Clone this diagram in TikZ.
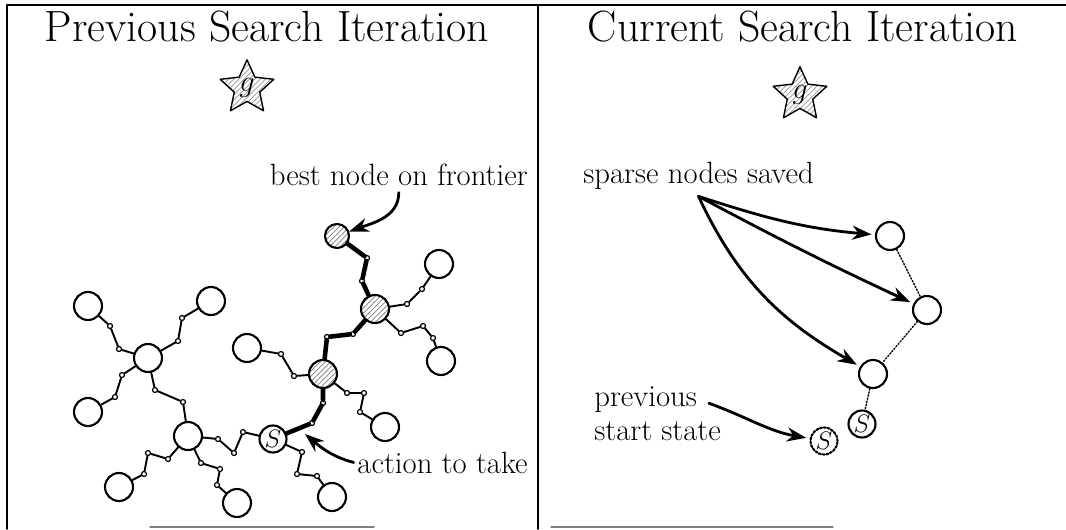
\documentclass[tikz,border=0pt]{standalone}
\usepackage{amsmath}
\usepackage{amssymb}
\usepackage{tikz}
\usetikzlibrary{arrows.meta,shapes.geometric,patterns}
\definecolor{sqsqsq}{rgb}{0.5,0.5,0.5}
\definecolor{cccccc}{rgb}{0.6,0.6,0.6}
\begin{document}
\begin{tikzpicture}[line cap=round,line join=round,>={Stealth[length=11pt,width=8pt]},x=0.02cm,y=0.02cm,
  bigc/.style={circle,draw,line width=1.2pt,minimum size=0.56cm,inner sep=0},
  hatc/.style={bigc,pattern=north east lines,pattern color=sqsqsq},
  dotc/.style={circle,draw,line width=0.7pt,fill=white,minimum size=0.1cm,inner sep=0},
  startc/.style={circle,draw,line width=1.2pt,minimum size=0.54cm,inner sep=0,font=\fontsize{15}{17}\selectfont},
  goalc/.style={star,star points=5,star point ratio=2.1,draw,line width=0.8pt,minimum size=0.82cm,inner sep=0,pattern=north east lines,pattern color=cccccc,font=\fontsize{17}{19}\selectfont},
  link/.style={line width=1.1pt},
  bestlink/.style={line width=2.6pt},
  arr/.style={->,line width=1.6pt,shorten >=2pt},
  savlink/.style={densely dotted,line width=0.8pt},
  lbl/.style={font=\fontsize{17.5}{19.8}\selectfont,inner sep=0},
  ttl/.style={font=\fontsize{24.9}{29}\selectfont,inner sep=0}]
\useasboundingbox (0,0) rectangle (1066,529);
\draw [line width=1.1pt] (1066,524) -- (7,524) -- (7,0);
\draw [line width=1.1pt] (538,524) -- (538,0);
\draw [color=sqsqsq,line width=0.8pt] (150,2) -- (374,2);
\draw [color=sqsqsq,line width=0.8pt] (551,2) -- (833,2);
\node[ttl,anchor=base] (ttlL) at (267,488) {Previous Search Iteration};
\node[ttl,anchor=base] (ttlR) at (803,488) {Current Search Iteration};
\node[goalc] (goalL) at (247,441) {$g$};
\node[goalc] (goalR) at (800,434) {$g$};
\node[bigc] (hubA) at (148,171) {};
\node[bigc] (leafA1) at (88,223) {};
\node[bigc] (leafA2) at (211,228) {};
\node[bigc] (leafA3) at (88,117) {};
\node[bigc] (hubB) at (188,93) {};
\node[bigc] (leafB1) at (119,42) {};
\node[bigc] (leafB2) at (237,26) {};
\node[startc] (startL) at (273,90) {$S$};
\node[bigc] (leafS) at (332,32) {};
\node[hatc] (shC) at (323,155) {};
\node[bigc] (leafC1) at (247,181) {};
\node[bigc] (leafC2) at (385,102) {};
\node[hatc] (shD) at (375,220) {};
\node[bigc] (leafD1) at (439,265) {};
\node[bigc] (leafD2) at (441,168) {};
\node[hatc,minimum size=0.48cm] (best) at (337,293) {};
\node[dotc] (a1) at (119,180) {};
\node[dotc] (a2) at (110,203) {};
\node[dotc] (a3) at (178,188) {};
\node[dotc] (a4) at (182,211) {};
\node[dotc] (a5) at (122,154) {};
\node[dotc] (a6) at (115,132) {};
\node[dotc] (a7) at (155,139) {};
\node[dotc] (a8) at (183,127) {};
\node[dotc] (b1) at (168,70) {};
\node[dotc] (b2) at (148,76) {};
\node[dotc] (b3) at (144,55) {};
\node[dotc] (b4) at (201,66) {};
\node[dotc] (b5) at (220,60) {};
\node[dotc] (b6) at (217,44) {};
\node[dotc] (b7) at (218,90) {};
\node[dotc] (b8) at (234,76) {};
\node[dotc] (b9) at (243,97) {};
\node[dotc] (s1) at (302,77) {};
\node[dotc] (s2) at (297,55) {};
\node[dotc] (s3) at (317,53) {};
\node[dotc] (t1) at (312,106) {};
\node[dotc] (t2) at (323,126) {};
\node[dotc] (c1) at (294,153) {};
\node[dotc] (c2) at (281,175) {};
\node[dotc] (c3) at (347,136) {};
\node[dotc] (c4) at (364,136) {};
\node[dotc] (c5) at (360,117) {};
\node[dotc] (t3) at (327,192) {};
\node[dotc] (t4) at (353,195) {};
\node[dotc] (d1) at (407,225) {};
\node[dotc] (d2) at (422,240) {};
\node[dotc] (d3) at (401,196) {};
\node[dotc] (d4) at (423,203) {};
\node[dotc] (d5) at (433,191) {};
\node[dotc] (t5) at (362,248) {};
\node[dotc] (t6) at (367,271) {};
\draw [link] (hubA) -- (a1) -- (a2) -- (leafA1);
\draw [link] (hubA) -- (a3) -- (a4) -- (leafA2);
\draw [link] (hubA) -- (a5) -- (a6) -- (leafA3);
\draw [link] (hubA) -- (a7) -- (a8) -- (hubB);
\draw [link] (hubB) -- (b1) -- (b2) -- (b3) -- (leafB1);
\draw [link] (hubB) -- (b4) -- (b5) -- (b6) -- (leafB2);
\draw [link] (hubB) -- (b7) -- (b8) -- (b9) -- (startL);
\draw [link] (startL) -- (s1) -- (s2) -- (s3) -- (leafS);
\draw [link] (shC) -- (c1) -- (c2) -- (leafC1);
\draw [link] (shC) -- (c3) -- (c4) -- (c5) -- (leafC2);
\draw [link] (shD) -- (d1) -- (d2) -- (leafD1);
\draw [link] (shD) -- (d3) -- (d4) -- (d5) -- (leafD2);
\draw [bestlink] (startL) -- (t1) -- (t2) -- (shC);
\draw [bestlink] (shC) -- (t3) -- (t4) -- (shD);
\draw [bestlink] (shD) -- (t5) -- (t6) -- (best);
\node[lbl,anchor=base east] (bestlbl) at (528,344) {best node on frontier};
\node[lbl,anchor=base east] (actlbl) at (528,56) {action to take};
\coordinate (acttip) at (305,95);
\draw [arr,shorten >=0pt] ([yshift=-4pt]bestlbl.south) to[out=-90,in=20] (best);
\draw [arr,shorten >=0pt] ([xshift=-2pt]actlbl.west) to[out=165,in=-40] (acttip);
\node[lbl,anchor=base west] (savlbl) at (583,346) {sparse nodes saved};
\node[lbl,anchor=north west,align=left] (prevlbl) at (594,143) {previous\\start state};
\node[bigc] (n1) at (890,293) {};
\node[bigc] (n2) at (927,219) {};
\node[bigc] (n3) at (873,155) {};
\node[startc] (startR) at (862,105) {$S$};
\node[startc,densely dotted] (prevS) at (824,88) {$S$};
\draw [savlink] (n1) -- (n2);
\draw [savlink] (n2) -- (n3);
\draw [savlink] (n3) -- (startR);
\draw [arr] ([yshift=-4pt]savlbl.south) to[out=-18,in=175] (n1);
\draw [arr] ([yshift=-4pt]savlbl.south) to[out=-28,in=155] (n2);
\draw [arr] ([yshift=-4pt]savlbl.south) to[out=-65,in=150] (n3);
\draw [arr] ([xshift=-7pt,yshift=6pt]prevlbl.east) to[out=-20,in=170] (prevS);
\end{tikzpicture}
\end{document}
